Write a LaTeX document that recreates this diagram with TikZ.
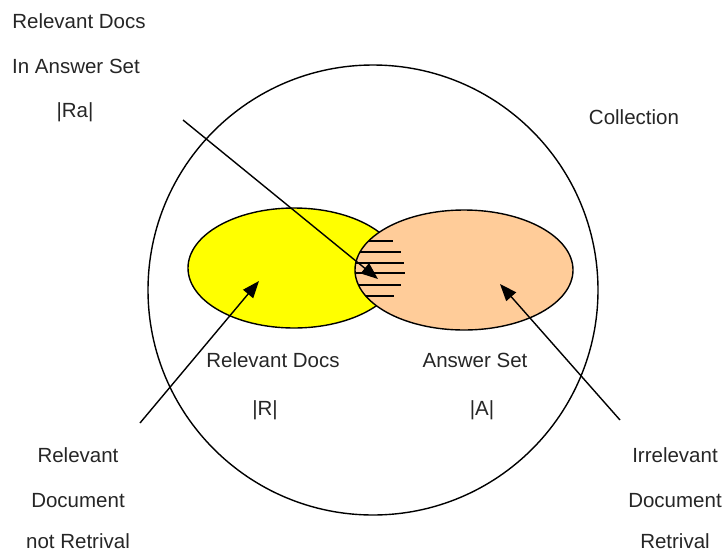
\documentclass[tikz,border=0pt]{standalone}
\usepackage{fontspec}
\setmainfont{Liberation Sans}
\usetikzlibrary{arrows.meta}
\definecolor{relfill}{HTML}{FFFF00}
\definecolor{ansfill}{HTML}{FFCC99}
\begin{document}
\begin{tikzpicture}[x=1pt,y=-1pt,
  outline/.style={draw=black,line width=1.4pt},
  lbl/.style={anchor=base,inner sep=0pt,font=\fontsize{20.5}{24}\selectfont,text=black!85},
  pointer/.style={line width=1.4pt,-{Triangle[length=17pt,width=13pt]}},
  hatch/.style={line width=1.6pt}]
\useasboundingbox (0,0) rectangle (725,552);
% collection
\draw[outline] (373,290) circle (225);
% relevant docs and answer set
\draw[outline,fill=relfill] (294,268) ellipse (106 and 60);
\draw[outline,fill=ansfill] (464,270) ellipse (109 and 60);
% overlap hatching
\begin{scope}
  \clip (464,270) ellipse (109 and 60);
  \foreach \yy/\xe in {241/393,252/401,263/404,273/405,285/401,296/394}
    \draw[hatch] (340,\yy) -- (\xe,\yy);
\end{scope}
% labels
\node[lbl] (t1) at (79,28) {Relevant Docs};
\node[lbl] (t2) at (76,73) {In Answer Set};
\node[lbl] (t3) at (75,117) {|Ra|};
\node[lbl] (coll) at (634,124) {Collection};
\node[lbl] (rd) at (273,367) {Relevant Docs};
\node[lbl] (rr) at (265,415) {|R|};
\node[lbl] (as) at (475,367) {Answer Set};
\node[lbl] (aa) at (482,415) {|A|};
\node[lbl] (l1) at (78,462) {Relevant};
\node[lbl] (l2) at (78,507) {Document};
\node[lbl] (l3) at (78,548) {not Retrival};
\node[lbl] (r1) at (675,462) {Irrelevant};
\node[lbl] (r2) at (675,507) {Document};
\node[lbl] (r3) at (675,548) {Retrival};
% pointers
\coordinate (raTail) at (183,120);
\coordinate (raTip) at (378,279);
\coordinate (rTail) at (140,423);
\coordinate (rTip) at (259,281);
\coordinate (aTail) at (620,420);
\coordinate (aTip) at (500,284);
\draw[pointer] (raTail) -- (raTip);
\draw[pointer] (rTail) -- (rTip);
\draw[pointer] (aTail) -- (aTip);
\end{tikzpicture}
\end{document}
